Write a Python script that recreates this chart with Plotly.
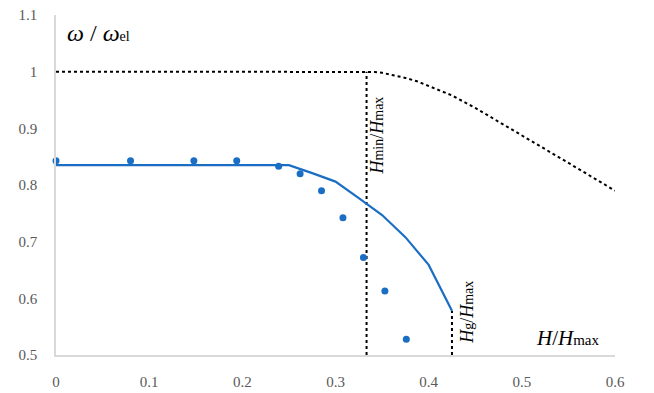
import plotly.graph_objects as go

# measured points (markers)
meas_x = [0.0, 0.08, 0.148, 0.194, 0.239, 0.262, 0.285, 0.308, 0.330, 0.353, 0.376]
meas_y = [0.843, 0.843, 0.843, 0.843, 0.833, 0.820, 0.790, 0.742, 0.672, 0.613, 0.528]

# computed curve (solid blue)
calc_x = [0.0, 0.25, 0.275, 0.30, 0.325, 0.35, 0.375, 0.40, 0.425]
calc_y = [0.835, 0.835, 0.821, 0.806, 0.777, 0.747, 0.708, 0.659, 0.578]

# electrical limit (dotted black)
lim_x = [0.0, 0.333, 0.342, 0.35, 0.362, 0.375, 0.3875, 0.40, 0.4125, 0.425, 0.45, 0.50, 0.55, 0.60]
lim_y = [1.0, 1.0, 0.9995, 0.998, 0.994, 0.989, 0.983, 0.975, 0.967, 0.958, 0.936, 0.888, 0.839, 0.790]

# marker lines
h_min = 1 / 3
h_g = 0.425
h_g_y = 0.578

x_ticks = [0, 0.1, 0.2, 0.3, 0.4, 0.5, 0.6]
x_tick_text = ["0", "0.1", "0.2", "0.3", "0.4", "0.5", "0.6"]
y_ticks = [0.5, 0.6, 0.7, 0.8, 0.9, 1.0, 1.1]
y_tick_text = ["0.5", "0.6", "0.7", "0.8", "0.9", "1", "1.1"]

BLUE = "#1a6ec4"
FONT = "Liberation Serif, Times New Roman, serif"
TICK_FONT = dict(family=FONT, size=15, color="#595959")

fig = go.Figure()
fig.add_trace(go.Scatter(
    x=lim_x, y=lim_y, mode="lines",
    line=dict(color="black", width=2, dash="dot"),
    cliponaxis=False,
))
fig.add_trace(go.Scatter(
    x=[h_min, h_min], y=[0.5, 1.0], mode="lines",
    line=dict(color="black", width=2, dash="dot"),
))
fig.add_trace(go.Scatter(
    x=[h_g, h_g], y=[0.5, h_g_y], mode="lines",
    line=dict(color="black", width=2, dash="dot"),
))
fig.add_trace(go.Scatter(
    x=calc_x, y=calc_y, mode="lines",
    line=dict(color=BLUE, width=2.2),
))
fig.add_trace(go.Scatter(
    x=meas_x, y=meas_y, mode="markers",
    marker=dict(color=BLUE, size=7),
    cliponaxis=False,
))

sub = "<span style='font-style:normal;font-size:14px'>{}</span>"
fig.add_annotation(
    x=0.0098, y=1.068, xanchor="left", yanchor="middle", showarrow=False,
    text="<i>ω</i> / <i>ω</i>" + "<span style='font-size:14px'>el</span>",
    font=dict(family=FONT, size=24, color="black"),
)
fig.add_annotation(
    x=0.345, y=0.888, textangle=-90, showarrow=False,
    text="<i>H</i>" + sub.format("min") + "/<i>H</i>" + sub.format("max"),
    font=dict(family=FONT, size=18, color="black"),
)
fig.add_annotation(
    x=0.441, y=0.576, textangle=-90, showarrow=False,
    text="<i>H</i>" + sub.format("g") + "/<i>H</i>" + sub.format("max"),
    font=dict(family=FONT, size=18, color="black"),
)
fig.add_annotation(
    x=0.550, y=0.530, showarrow=False,
    text="<i>H</i>/<i>H</i>" + sub.format("max").replace("14px", "15px"),
    font=dict(family=FONT, size=21, color="black"),
)

# the page body keeps its default 8px margin, so the figure is 8px smaller
fig.update_layout(
    width=646, height=385,
    margin=dict(l=48, r=39, t=7, b=38),
    paper_bgcolor="white", plot_bgcolor="white",
    showlegend=False,
    font=dict(family=FONT, size=15, color="#595959"),
)
fig.update_xaxes(
    range=[0, 0.6], tickvals=x_ticks, ticktext=x_tick_text, tickfont=TICK_FONT,
    showgrid=False, zeroline=False, showline=True, automargin=False,
    linecolor="#d9d9d9", linewidth=1.5, ticks="", ticklabelstandoff=12,
    ticklabeloverflow="allow",
)
fig.update_yaxes(
    range=[0.5, 1.1], tickvals=y_ticks, ticktext=y_tick_text, tickfont=TICK_FONT,
    showgrid=False, zeroline=False, showline=True, automargin=False,
    linecolor="#d9d9d9", linewidth=1.5, ticks="", ticklabelstandoff=14,
    ticklabeloverflow="allow",
)

fig.write_html("out.html")
